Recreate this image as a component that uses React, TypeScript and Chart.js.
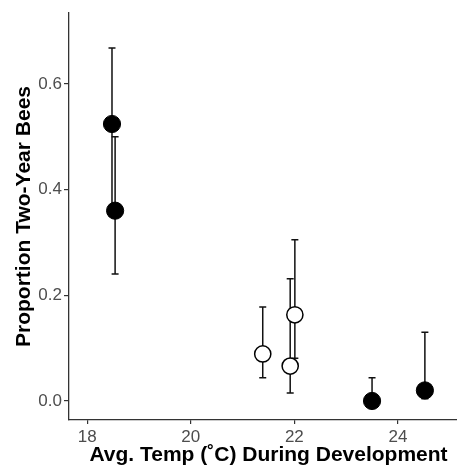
import React, { useEffect, useRef } from "react";
import { Chart, registerables } from "chart.js";

Chart.register(...registerables);

// Filled (black) points
const filledTemp = [18.48, 18.54, 23.5, 24.52];
const filledProp = [0.524, 0.36, 0.0, 0.02];
const filledLower = [0.35, 0.24, 0.0, 0.004];
const filledUpper = [0.668, 0.5, 0.044, 0.13];

// Open (white) points
const openTemp = [21.39, 21.92, 22.01];
const openProp = [0.089, 0.066, 0.163];
const openLower = [0.044, 0.015, 0.081];
const openUpper = [0.178, 0.231, 0.305];

const xTicks = [18, 20, 22, 24];
const yTicks = [0.0, 0.2, 0.4, 0.6];

const xTitle = "Avg. Temp (˚C) During Development";
const yTitle = "Proportion Two-Year Bees";

const FONT = "'Liberation Sans', Arial, Helvetica, sans-serif";

const errorBarPlugin = {
  id: "errorBars",
  beforeDatasetsDraw(chart: any) {
    const ctx = chart.ctx;
    const xs = chart.scales.x;
    const ys = chart.scales.y;
    ctx.save();
    ctx.strokeStyle = "#111";
    ctx.lineWidth = 1.5;
    chart.data.datasets.forEach((ds: any) => {
      const lo: number[] = ds.errLower;
      const hi: number[] = ds.errUpper;
      ds.data.forEach((p: any, i: number) => {
        const px = xs.getPixelForValue(p.x);
        const pl = ys.getPixelForValue(lo[i]);
        const ph = ys.getPixelForValue(hi[i]);
        ctx.beginPath();
        ctx.moveTo(px, pl);
        ctx.lineTo(px, ph);
        ctx.moveTo(px - 3.5, pl);
        ctx.lineTo(px + 3.5, pl);
        ctx.moveTo(px - 3.5, ph);
        ctx.lineTo(px + 3.5, ph);
        ctx.stroke();
      });
    });
    ctx.restore();
  },
};

const xTitlePlugin = {
  id: "xTitle",
  afterDraw(chart: any) {
    const ctx = chart.ctx;
    const xs = chart.scales.x;
    ctx.save();
    ctx.fillStyle = "#000";
    ctx.font = `bold 21px ${FONT}`;
    ctx.textAlign = "center";
    ctx.textBaseline = "alphabetic";
    ctx.fillText(xTitle, (xs.left + xs.right) / 2 + 5.5, xs.bottom - 4.5);
    ctx.restore();
  },
};

export default function App() {
  const ref = useRef<HTMLCanvasElement>(null);
  useEffect(() => {
    if (!ref.current) return;
    const chart = new Chart(ref.current, {
      type: "scatter",
      data: {
        datasets: [
          {
            data: filledTemp.map((x, i) => ({ x, y: filledProp[i] })),
            errLower: filledLower,
            errUpper: filledUpper,
            pointRadius: 8.6,
            pointBackgroundColor: "#000",
            pointBorderColor: "#000",
            pointBorderWidth: 1,
          } as any,
          {
            data: openTemp.map((x, i) => ({ x, y: openProp[i] })),
            errLower: openLower,
            errUpper: openUpper,
            pointRadius: 8.1,
            pointBackgroundColor: "#fff",
            pointBorderColor: "#000",
            pointBorderWidth: 1.5,
          } as any,
        ],
      },
      options: {
        animation: false,
        responsive: false,
        layout: { autoPadding: false, padding: { top: 13, right: 0, left: 0, bottom: 0 } },
        plugins: { legend: { display: false }, tooltip: { enabled: false } },
        scales: {
          x: {
            type: "linear",
            min: 17.65,
            max: 25.14,
            afterBuildTicks: (s: any) => {
              s.ticks = xTicks.map((v) => ({ value: v }));
            },
            afterFit: (s: any) => {
              s.height = 45;
              s.paddingLeft = 0;
              s.paddingRight = 0;
            },
            grid: {
              display: true,
              drawOnChartArea: false,
              drawTicks: true,
              tickLength: 4,
              color: "#333",
              lineWidth: 1.2,
            },
            border: { display: true, color: "#333", width: 1.3 },
            ticks: {
              padding: 3,
              color: "#4d4d4d",
              font: { family: FONT, size: 17 },
              callback: (v: any) => String(v),
            },
            title: { display: false },
          },
          y: {
            type: "linear",
            min: -0.036,
            max: 0.734,
            afterBuildTicks: (s: any) => {
              s.ticks = yTicks.map((v) => ({ value: v }));
            },
            afterFit: (s: any) => {
              s.width = 69;
              s.paddingTop = 0;
              s.paddingBottom = 0;
            },
            grid: {
              display: true,
              drawOnChartArea: false,
              drawTicks: true,
              tickLength: 5,
              color: "#333",
              lineWidth: 1.2,
            },
            border: { display: true, color: "#333", width: 1.3 },
            ticks: {
              padding: 2,
              color: "#4d4d4d",
              font: { family: FONT, size: 17 },
              callback: (v: any) => Number(v).toFixed(1),
            },
            title: {
              display: true,
              text: yTitle,
              color: "#000",
              font: { family: FONT, size: 21, weight: "bold" },
              padding: { top: 12, bottom: 0 },
            },
          },
        },
      },
      plugins: [errorBarPlugin, xTitlePlugin],
    });
    return () => chart.destroy();
  }, []);
  return (
    <div style={{ position: "absolute", left: 0, top: 0, width: 457, height: 465, background: "#fff" }}>
      <canvas ref={ref} width={457} height={465} />
    </div>
  );
}
